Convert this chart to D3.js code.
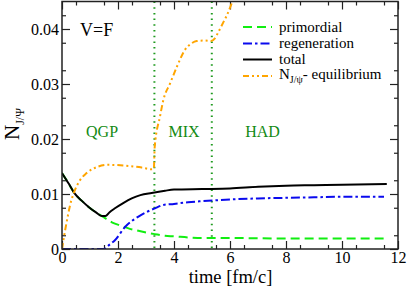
<!DOCTYPE html>
<html>
<head>
<meta charset="utf-8">
<script src="https://cdn.jsdelivr.net/npm/d3@7"></script>
<style>
  body { margin: 0; background: #fff; }
  svg text { font-family: "Liberation Serif", "Times New Roman", Times, "DejaVu Serif", serif; }
</style>
</head>
<body>
<div id="chart"></div>
<script>
// values
var tTotal = [0, 0.25, 0.45, 0.7, 0.94, 1.2, 1.42, 1.55, 1.7, 1.89, 2.2, 2.49, 2.8, 3.2, 3.68, 4, 5, 6, 7, 8, 9, 10, 11.6];
var nTotal = [0.0138, 0.0118, 0.0101, 0.0088, 0.0077, 0.0067, 0.0060, 0.0060, 0.0067, 0.0074, 0.0084, 0.0092, 0.0098, 0.0102, 0.0106, 0.0108, 0.0109, 0.0110, 0.0113, 0.0115, 0.0116, 0.0117, 0.0118];

var tPrim = [0, 0.25, 0.45, 0.7, 0.94, 1.2, 1.42, 1.54, 1.8, 2.13, 2.4, 2.73, 3.0, 3.32, 3.68, 4, 4.5, 5, 6, 8, 10, 11.6];
var nPrim = [0.0138, 0.0118, 0.0101, 0.0088, 0.0077, 0.0067, 0.0060, 0.0056, 0.0048, 0.0042, 0.0037, 0.0033, 0.0030, 0.0027, 0.0024, 0.0023, 0.0021, 0.0020, 0.0020, 0.0019, 0.0019, 0.0019];

var tRegen = [0, 1.47, 1.7, 1.89, 2.25, 2.73, 3.32, 3.62, 4, 4.5, 5, 6, 7, 8, 9, 10, 11.5];
var nRegen = [0, 0, 0.0008, 0.0016, 0.0040, 0.0059, 0.0074, 0.0080, 0.0082, 0.0085, 0.0087, 0.0090, 0.0092, 0.0093, 0.0094, 0.0095, 0.0095];

var tEq = [0, 0.05, 0.17, 0.29, 0.46, 0.64, 0.88, 1.3, 1.65, 2.37, 2.85, 3.2, 3.28, 3.31, 3.5, 3.62, 3.86, 4.1, 4.39, 4.63, 4.81, 5.1, 5.32, 5.46, 5.58, 5.76, 5.88, 6.04, 6.12];
var nEq = [0, 0.0016, 0.0050, 0.0080, 0.0107, 0.0125, 0.0138, 0.0150, 0.0153, 0.0151, 0.0148, 0.0145, 0.0146, 0.0185, 0.0241, 0.0271, 0.0301, 0.0331, 0.0362, 0.0374, 0.0378, 0.0379, 0.0378, 0.0383, 0.0394, 0.0412, 0.0424, 0.0444, 0.0455];

var phaseLines = [3.3, 5.35];
var phaseNames = ["QGP", "MIX", "HAD"];
var phaseX = [1.43, 4.36, 7.16];

var xTicks = [0, 2, 4, 6, 8, 10, 12];
var yTicks = [0, 0.01, 0.02, 0.03, 0.04];
var yTickLabels = ["0", "0.01", "0.02", "0.03", "0.04"];

var svgWidth = 407;
var svgHeight = 286;
var margin = { top: 1.5, right: 9, bottom: 37, left: 62 };
var width = svgWidth - margin.left - margin.right;
var height = svgHeight - margin.top - margin.bottom;
var serif = "'Liberation Serif', 'Times New Roman', 'DejaVu Serif', serif";

var svg = d3.select("#chart").append("svg")
    .attr("width", svgWidth)
    .attr("height", svgHeight)
    .attr("font-family", serif);

var chartGroup = svg.append("g")
    .attr("transform", `translate(${margin.left}, ${margin.top})`);

var x = d3.scaleLinear().domain([0, 12]).range([0, width]);
var y = d3.scaleLinear().domain([0, 0.045]).range([height, 0]);

chartGroup.append("clipPath").attr("id", "clip")
    .append("rect").attr("width", width).attr("height", height);

// axes: major ticks with labels, minor ticks, mirrored on top/right
function styleAxis(g) {
    g.attr("font-family", serif).attr("font-size", 16);
    g.select(".domain").remove();
    g.selectAll("line").attr("stroke", "#222").attr("stroke-width", 1.2);
    g.selectAll("text").attr("fill", "#000");
}

var minorX = d3.range(0.5, 12, 1);
var minorY = d3.range(0.0025, 0.045, 0.005);

chartGroup.append("g")
    .attr("transform", `translate(0, ${height})`)
    .call(d3.axisBottom(x).tickValues(xTicks).tickSize(-8).tickPadding(3).tickFormat(d3.format("d")))
    .call(styleAxis);
chartGroup.append("g")
    .attr("transform", `translate(0, ${height})`)
    .call(d3.axisBottom(x).tickValues(minorX).tickSize(-4).tickFormat(""))
    .call(styleAxis);
chartGroup.append("g")
    .call(d3.axisTop(x).tickValues(xTicks).tickSize(-8).tickFormat(""))
    .call(styleAxis);
chartGroup.append("g")
    .call(d3.axisTop(x).tickValues(minorX).tickSize(-4).tickFormat(""))
    .call(styleAxis);

chartGroup.append("g")
    .call(d3.axisLeft(y).tickValues(yTicks).tickSize(-8).tickPadding(3).tickFormat((d, i) => yTickLabels[i]))
    .call(styleAxis);
chartGroup.append("g")
    .call(d3.axisLeft(y).tickValues(minorY).tickSize(-4).tickFormat(""))
    .call(styleAxis);
chartGroup.append("g")
    .attr("transform", `translate(${width}, 0)`)
    .call(d3.axisRight(y).tickValues(yTicks).tickSize(-8).tickFormat(""))
    .call(styleAxis);
chartGroup.append("g")
    .attr("transform", `translate(${width}, 0)`)
    .call(d3.axisRight(y).tickValues(minorY).tickSize(-4).tickFormat(""))
    .call(styleAxis);

// phase boundaries
chartGroup.selectAll(".phase")
    .data(phaseLines)
    .enter()
    .append("line")
    .attr("x1", d => x(d)).attr("x2", d => x(d))
    .attr("y1", 0).attr("y2", height)
    .attr("stroke", "#1f9a1f")
    .attr("stroke-width", 2)
    .attr("stroke-dasharray", "1.5,4.2");

chartGroup.selectAll(".phaseName")
    .data(phaseNames)
    .enter()
    .append("text")
    .attr("x", (d, i) => x(phaseX[i]))
    .attr("y", 135.5)
    .attr("text-anchor", "middle")
    .attr("font-size", "16px")
    .attr("fill", "#138a13")
    .text(d => d);

chartGroup.append("text")
    .attr("x", 18).attr("y", 34.5)
    .attr("font-size", "18px")
    .text("V=F");

// curves
var series = [
    { t: tPrim, n: nPrim, color: "#11ee11", dash: "9,5" },
    { t: tRegen, n: nRegen, color: "#0a0aee", dash: "9,3,2.5,3" },
    { t: tTotal, n: nTotal, color: "#000", dash: null },
    { t: tEq, n: nEq, color: "#ffa500", dash: "6,3,2,3,2,3" }
];

var line = d3.line()
    .x(d => x(d[0]))
    .y(d => y(d[1]))
    .curve(d3.curveMonotoneX);

var curves = chartGroup.append("g").attr("clip-path", "url(#clip)");
series.forEach(function(s) {
    curves.append("path")
        .datum(d3.zip(s.t, s.n))
        .attr("d", line)
        .attr("fill", "none")
        .attr("stroke", s.color)
        .attr("stroke-width", 2)
        .attr("stroke-dasharray", s.dash);
});

// frame
chartGroup.append("rect")
    .attr("width", width).attr("height", height)
    .attr("fill", "none").attr("stroke", "#222").attr("stroke-width", 1.5);

// legend
var legendNames = ["primordial", "regeneration", "total"];
var legendY = [25.5, 42, 58, 74.5];
var legend = chartGroup.append("g");
series.forEach(function(s, i) {
    legend.append("line")
        .attr("x1", 181).attr("x2", 210)
        .attr("y1", legendY[i]).attr("y2", legendY[i])
        .attr("stroke", s.color).attr("stroke-width", 2)
        .attr("stroke-dasharray", s.dash);
});
legendNames.forEach(function(name, i) {
    legend.append("text")
        .attr("x", 217).attr("y", legendY[i] + 4.5)
        .attr("font-size", "15px")
        .text(name);
});
var eqText = legend.append("text")
    .attr("x", 217).attr("y", legendY[3] + 3)
    .attr("font-size", "15px");
eqText.append("tspan").text("N");
eqText.append("tspan").attr("font-size", "10px").attr("dy", 4).text("J/\u03C8");
eqText.append("tspan").attr("dy", -4).text("- equilibrium");

// axis labels
svg.append("text")
    .attr("x", 230.5).attr("y", 283)
    .attr("text-anchor", "middle")
    .attr("font-size", "18.5px")
    .text("time [fm/c]");

var yLabel = svg.append("text")
    .attr("transform", "translate(19, 124) rotate(-90)")
    .attr("text-anchor", "middle")
    .attr("font-size", "21px");
yLabel.append("tspan").text("N");
yLabel.append("tspan").attr("font-size", "12px").attr("dy", 5).text("J/\u03A8");
</script>
</body>
</html>
